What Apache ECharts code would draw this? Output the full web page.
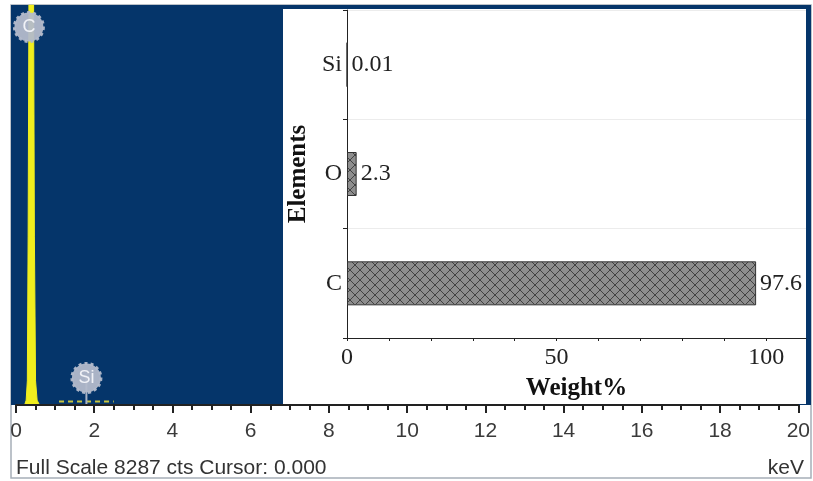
<!DOCTYPE html>
<html>
<head>
<meta charset="utf-8">
<script src="https://cdn.jsdelivr.net/npm/echarts@6/dist/echarts.min.js"></script>
<style>
html,body{margin:0;padding:0;background:#fff;}
#chart{width:813px;height:481px;}
</style>
</head>
<body>
<div id="chart"></div>
<script>
// ---- Spectrum data (EDS) ----
const spectrumKeV    = [0.15, 0.22, 0.26, 0.29, 0.31, 0.33, 0.45, 0.47, 0.50, 0.54, 0.60];
const spectrumCounts = [0,    0,    100,  500,  3500, 8287, 8287, 3500, 500,  100,  0];
const fullScale = 8287;
const spectrumTicks = [0, 2, 4, 6, 8, 10, 12, 14, 16, 18, 20];

const markerNames  = ['C', 'Si'];
const markerKeV    = [0.33, 1.8];
const markerCounts = [7830, 560];

const roiKeV    = [1.1, 2.5];
const roiCounts = [70, 70];

// ---- Inset bar chart data ----
const elements = ['C', 'O', 'Si'];
const weightPct = [97.6, 2.3, 0.01];
const weightTicks = [0, 50, 100];

function hatch() {
  const c = document.createElement('canvas');
  c.width = 10; c.height = 10;
  const g = c.getContext('2d');
  g.fillStyle = '#8e8e8e';
  g.fillRect(0, 0, 10, 10);
  g.strokeStyle = '#3a3a3a';
  g.lineWidth = 0.9;
  g.beginPath();
  g.moveTo(0, 0); g.lineTo(10, 10);
  g.moveTo(10, 0); g.lineTo(0, 10);
  g.stroke();
  return c;
}

const chart = echarts.init(document.getElementById('chart'), null, {renderer: 'canvas'});
const serif = 'Liberation Serif';
const sans = 'Liberation Sans';

const option = {
  animation: false,
  backgroundColor: '#fff',
  title: [
    {text: 'Full Scale ' + fullScale + ' cts Cursor: 0.000', left: 11, top: 453,
     textStyle: {fontFamily: sans, fontSize: 21, fontWeight: 'normal', color: '#333'}},
    {text: 'keV', right: 4, top: 453,
     textStyle: {fontFamily: sans, fontSize: 21, fontWeight: 'normal', color: '#333'}}
  ],
  graphic: [
    {type: 'rect', z: -20, shape: {x: 11, y: 5, width: 800, height: 473},
     style: {fill: '#fff', stroke: '#a7afb8', lineWidth: 1.5}},
    {type: 'rect', z: -10, shape: {x: 11, y: 5, width: 800, height: 400},
     style: {fill: '#05356a'}},
    {type: 'rect', z: -5, shape: {x: 283, y: 9, width: 523, height: 395},
     style: {fill: '#fff'}}
  ],
  grid: [
    {left: 16, right: 12, top: 5, bottom: 76},
    {left: 347, right: 7, top: 10, bottom: 143}
  ],
  xAxis: [
    {
      gridIndex: 0, type: 'value', min: 0, max: 20, interval: 2, z: 3,
      axisLine: {show: true, onZero: false, lineStyle: {color: '#222', width: 2}},
      axisTick: {show: true, length: 8, lineStyle: {color: '#222', width: 2}},
      minorTick: {show: true, splitNumber: 4, length: 5, lineStyle: {color: '#222', width: 2}},
      splitLine: {show: false},
      axisLabel: {fontFamily: sans, fontSize: 21, color: '#3a3a3a', margin: 16,
        formatter: v => spectrumTicks.includes(v) ? String(v) : ''}
    },
    {
      gridIndex: 1, type: 'value', min: 0, max: 109.5, interval: 10, z: 5,
      axisLine: {show: true, lineStyle: {color: '#222', width: 1}},
      axisTick: {show: true, length: 3, lineStyle: {color: '#222'}},
      splitLine: {show: false},
      axisLabel: {fontFamily: serif, fontSize: 24, color: '#222', margin: 8, showMaxLabel: false,
        formatter: v => weightTicks.includes(v) ? String(v) : ''},
      name: 'Weight%', nameLocation: 'middle', nameGap: 38,
      nameTextStyle: {fontFamily: serif, fontSize: 25, fontWeight: 'bold', color: '#111'}
    }
  ],
  yAxis: [
    {gridIndex: 0, type: 'value', min: 0, max: fullScale, show: false},
    {
      gridIndex: 1, type: 'category', data: elements, z: 5,
      axisLine: {show: true, lineStyle: {color: '#222', width: 1}},
      axisTick: {show: true, length: 4, lineStyle: {color: '#222'}},
      splitLine: {show: true, lineStyle: {color: '#ececec'}},
      axisLabel: {fontFamily: serif, fontSize: 24, color: '#222', margin: 5},
      name: 'Elements', nameLocation: 'middle', nameGap: 34, nameRotate: 90,
      nameTextStyle: {fontFamily: serif, fontSize: 25, fontWeight: 'bold', color: '#111'}
    }
  ],
  series: [
    {
      type: 'line', xAxisIndex: 0, yAxisIndex: 0, z: 2,
      data: spectrumKeV.map((k, i) => [k, spectrumCounts[i]]),
      showSymbol: false, smooth: false,
      lineStyle: {color: '#f0ee1e', width: 1},
      areaStyle: {color: '#f0ee1e', opacity: 1}
    },
    {
      type: 'line', xAxisIndex: 0, yAxisIndex: 0, z: 2,
      data: roiKeV.map((k, i) => [k, roiCounts[i]]),
      showSymbol: false,
      lineStyle: {color: '#c9c640', width: 2, type: [5, 4]}
    },
    {
      type: 'line', xAxisIndex: 0, yAxisIndex: 0, z: 2,
      data: [[markerKeV[1], 0], [markerKeV[1], markerCounts[1]]],
      showSymbol: false,
      lineStyle: {color: '#a9b3c6', width: 2}
    },
    {
      type: 'scatter', xAxisIndex: 0, yAxisIndex: 0, z: 4,
      data: markerKeV.map((k, i) => ({value: [k, markerCounts[i]], name: markerNames[i]})),
      symbol: 'circle', symbolSize: 29,
      itemStyle: {color: '#b3bacb', borderColor: '#b3bacb', borderWidth: 3, borderType: [3, 3], opacity: 0.95},
      label: {show: true, position: 'inside', formatter: p => p.name,
        fontFamily: sans, fontSize: 18, color: '#f4f6fa'}
    },
    {
      type: 'bar', xAxisIndex: 1, yAxisIndex: 1, z: 5,
      data: weightPct,
      barWidth: 44,
      itemStyle: {color: {image: hatch(), repeat: 'repeat'}, borderColor: '#333', borderWidth: 1},
      label: {show: true, position: 'right', distance: 4,
        fontFamily: serif, fontSize: 24, color: '#222',
        formatter: p => String(p.value)}
    }
  ]
};
chart.setOption(option);
</script>
</body>
</html>
